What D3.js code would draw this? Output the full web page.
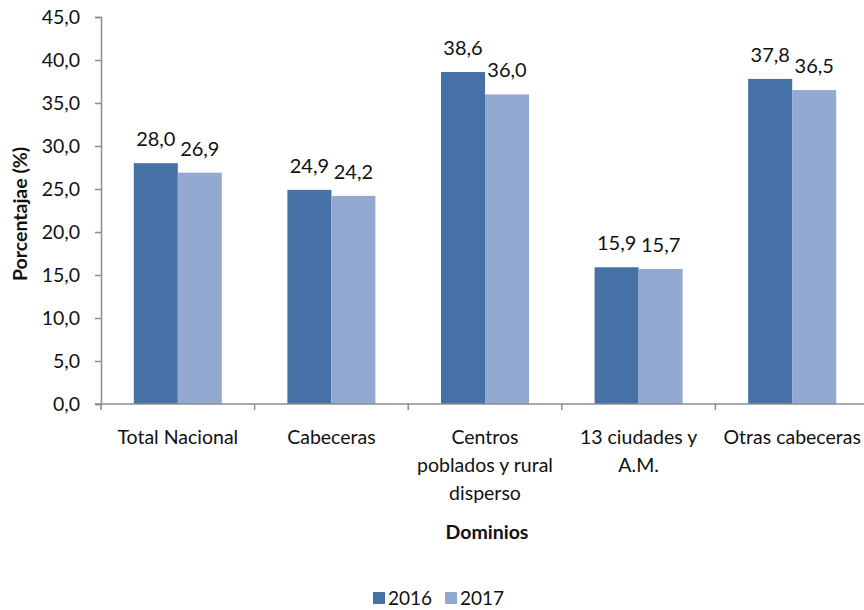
<!DOCTYPE html>
<html>
<head>
<meta charset="utf-8">
<script src="https://cdn.jsdelivr.net/npm/d3@7"></script>
<style>
  body { margin: 0; background: #fff; }
  text { font-family: Lato, "Open Sans", sans-serif; fill: #111; }
</style>
</head>
<body>
<div id="chart"></div>
<script>
// Data
const categories = ["Total Nacional", "Cabeceras", "Centros poblados y rural disperso", "13 ciudades y A.M.", "Otras cabeceras"];
const categoryLines = [["Total Nacional"], ["Cabeceras"], ["Centros", "poblados y rural", "disperso"], ["13 ciudades y", "A.M."], ["Otras cabeceras"]];
const years = ["2016", "2017"];
const values2016 = [28.0, 24.9, 38.6, 15.9, 37.8];
const values2017 = [26.9, 24.2, 36.0, 15.7, 36.5];
const yTicks = [0, 5, 10, 15, 20, 25, 30, 35, 40, 45];

const width = 864, height = 610;
const margin = { left: 101, top: 17, right: -5, bottom: 206 };

let colorScale = d3.scaleOrdinal().domain(years).range(["#4571a6", "#94a9d1"]);

let svg = d3.select("#chart")
    .append("svg")
    .attr("width", width)
    .attr("height", height);

let x = d3.scaleBand()
    .domain(categories)
    .range([margin.left, width - margin.right])
    .paddingInner(0)
    .paddingOuter(0);

let y = d3.scaleLinear()
    .domain([0, 45])
    .range([height - margin.bottom, margin.top]);

let x1 = d3.scaleBand()
    .domain(years)
    .range([0, 88]);

const fmt = v => d3.format(".1f")(v).replace(".", ",");

// Y axis
let yAxis = svg.append("g")
    .attr("transform", `translate(${margin.left},0)`)
    .call(d3.axisLeft(y).tickValues(yTicks).tickSize(6).tickPadding(15).tickFormat(fmt));
yAxis.select(".domain").attr("stroke", "#8c8c8c").attr("stroke-width", 1.5);
yAxis.selectAll(".tick line").attr("stroke", "#8c8c8c").attr("stroke-width", 1.5);
yAxis.selectAll(".tick text").style("font-size", "19.5px").attr("fill", "#111");

// Bars
const rows = categories.map((c, i) => ({ cat: c, vals: [values2016[i], values2017[i]] }));

let groups = svg.selectAll(".group")
    .data(rows)
    .join("g")
    .attr("class", "group")
    .attr("transform", d => `translate(${x(d.cat) + x.bandwidth() / 2 - 44},0)`);

groups.selectAll("rect")
    .data(d => d.vals.map((v, j) => ({ year: years[j], v })))
    .join("rect")
    .attr("x", d => x1(d.year))
    .attr("width", x1.bandwidth())
    .attr("y", d => y(d.v))
    .attr("height", d => y(0) - y(d.v))
    .attr("fill", d => colorScale(d.year));

groups.selectAll(".label")
    .data(d => d.vals.map((v, j) => ({ year: years[j], v })))
    .join("text")
    .attr("class", "label")
    .attr("x", d => x1(d.year) + x1.bandwidth() / 2)
    .attr("y", d => y(d.v) - 17)
    .attr("text-anchor", "middle")
    .style("font-size", "20px")
    .text(d => fmt(d.v));

// X axis
let xAxis = svg.append("g")
    .attr("transform", `translate(0,${y(0)})`);
xAxis.append("line")
    .attr("x1", margin.left - 6).attr("x2", width)
    .attr("stroke", "#8c8c8c").attr("stroke-width", 1.5);
xAxis.selectAll(".xtick")
    .data(categories.slice(1))
    .join("line")
    .attr("x1", d => x(d)).attr("x2", d => x(d))
    .attr("y1", 0).attr("y2", 6)
    .attr("stroke", "#8c8c8c").attr("stroke-width", 1.5);
xAxis.append("line")
    .attr("x1", margin.left).attr("x2", margin.left)
    .attr("y1", 0).attr("y2", 6)
    .attr("stroke", "#8c8c8c").attr("stroke-width", 1.5);

categories.forEach((c, i) => {
    let t = xAxis.append("text")
        .attr("text-anchor", "middle")
        .attr("y", 40)
        .style("font-size", "19.5px");
    categoryLines[i].forEach((line, k) => {
        t.append("tspan")
            .attr("x", x(c) + x.bandwidth() / 2)
            .attr("dy", k === 0 ? 0 : 28)
            .text(line);
    });
});

// Axis titles
svg.append("text")
    .attr("x", 487).attr("y", 539)
    .attr("text-anchor", "middle")
    .style("font-size", "19.5px")
    .style("font-weight", "bold")
    .text("Dominios");

svg.append("text")
    .attr("transform", "translate(27,214) rotate(-90)")
    .attr("text-anchor", "middle")
    .style("font-size", "19.5px")
    .style("font-weight", "bold")
    .text("Porcentajae (%)");

// Legend
let legend = svg.append("g").attr("transform", "translate(373,592)");
let item = legend.selectAll(".item")
    .data(years)
    .join("g")
    .attr("class", "item")
    .attr("transform", (d, i) => `translate(${i * 72},0)`);
item.append("rect")
    .attr("width", 12).attr("height", 12)
    .attr("fill", d => colorScale(d));
item.append("text")
    .attr("x", 15).attr("y", 13)
    .style("font-size", "19px")
    .text(d => d);
</script>
</body>
</html>
